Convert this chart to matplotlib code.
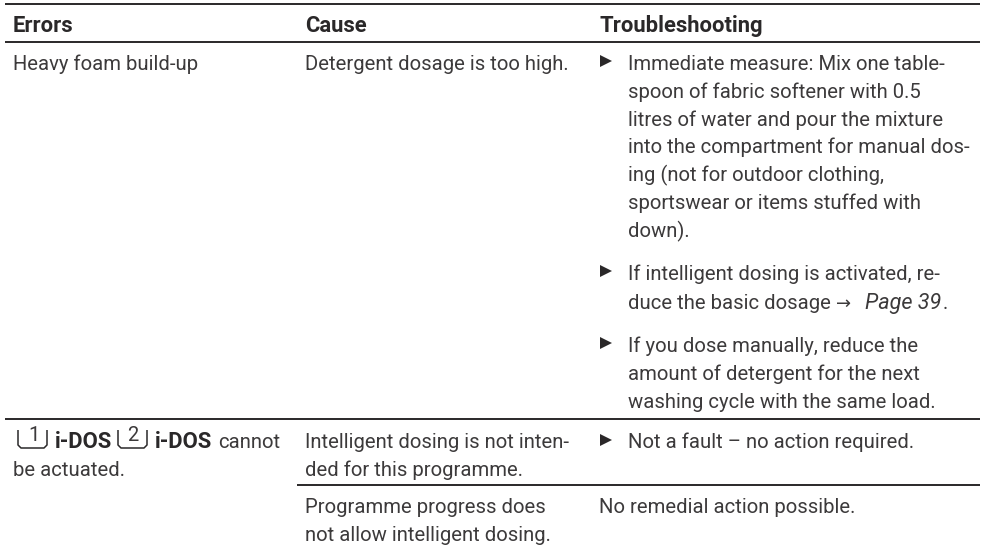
import matplotlib
matplotlib.use("Agg")
import matplotlib.pyplot as plt

W, H = 984, 550
FONT = ['Roboto', 'DejaVu Sans']
plt.rcParams['font.family'] = FONT
fig = plt.figure(figsize=(W/100, H/100), dpi=100)
ax = fig.add_axes([0, 0, 1, 1])
ax.set_xlim(0, W); ax.set_ylim(H, 0); ax.axis('off')

INK = '#2a2829'
BODY = '#3c3a3b'
FS = 14.6
FSB = 15.8

headers = ["Errors", "Cause", "Troubleshooting"]
header_x = [13, 305, 599]
col1 = [("Heavy foam build-up", 70), ("be actuated.", 476)]
col2 = [("Detergent dosage is too high.", 70),
        ("Intelligent dosing is not inten-", 448),
        ("ded for this programme.", 476),
        ("Programme progress does", 513),
        ("not allow intelligent dosing.", 541)]
col3 = [("Immediate measure: Mix one table-", 70),
        ("spoon of fabric softener with 0.5", 98),
        ("litres of water and pour the mixture", 126),
        ("into the compartment for manual dos-", 153),
        ("ing (not for outdoor clothing,", 181),
        ("sportswear or items stuffed with", 209),
        ("down).", 237),
        ("If intelligent dosing is activated, re-", 280),
        ("If you dose manually, reduce the", 352),
        ("amount of detergent for the next", 380),
        ("washing cycle with the same load.", 408),
        ("Not a fault – no action required.", 448)]
bullets_y = [61, 271, 343, 440]
rules_full = [4, 42, 419]
rule_partial = 485

def t(x, y, s, **kw):
    ax.text(x, y, s, va='baseline', ha='left', fontsize=kw.pop('fs', FS),
            color=kw.pop('c', BODY), family=FONT, **kw)

for y in rules_full:
    ax.plot([5, W-4], [y, y], color=INK, lw=1.4, solid_capstyle='butt')
ax.plot([297, W-4], [rule_partial]*2, color=INK, lw=1.4, solid_capstyle='butt')

for x, s in zip(header_x, headers):
    t(x, 32, s, fontweight='bold', c=INK, fs=FSB)
for s, y in col1:
    t(13, y, s)
for s, y in col2:
    t(305, y, s)
for s, y in col3:
    t(628, y, s)
for y in bullets_y:
    ax.plot([606], [y], marker='>', ms=8, color=INK, mew=0)
t(628, 309, "duce the basic dosage")
t(836, 309, "→", fs=13)
t(865, 309, "Page 39", style='italic', fs=15.6)
t(943, 309, ".")
t(599, 513, "No remedial action possible.")

for x0 in (18, 118):
    ax.plot([x0, x0, x0+3, x0+26, x0+29, x0+29], [430, 445, 448, 448, 445, 430],
            color=INK, lw=1.1, solid_capstyle='butt')
t(28, 441, "1", fs=14.6)
t(127, 441, "2", fs=14.6)
t(55, 448, "i-DOS", fontweight='bold', c=INK, fs=FSB)
t(155, 448, "i-DOS", fontweight='bold', c=INK, fs=FSB)
t(218, 448, "cannot")

fig.savefig("out.png", dpi=100)
